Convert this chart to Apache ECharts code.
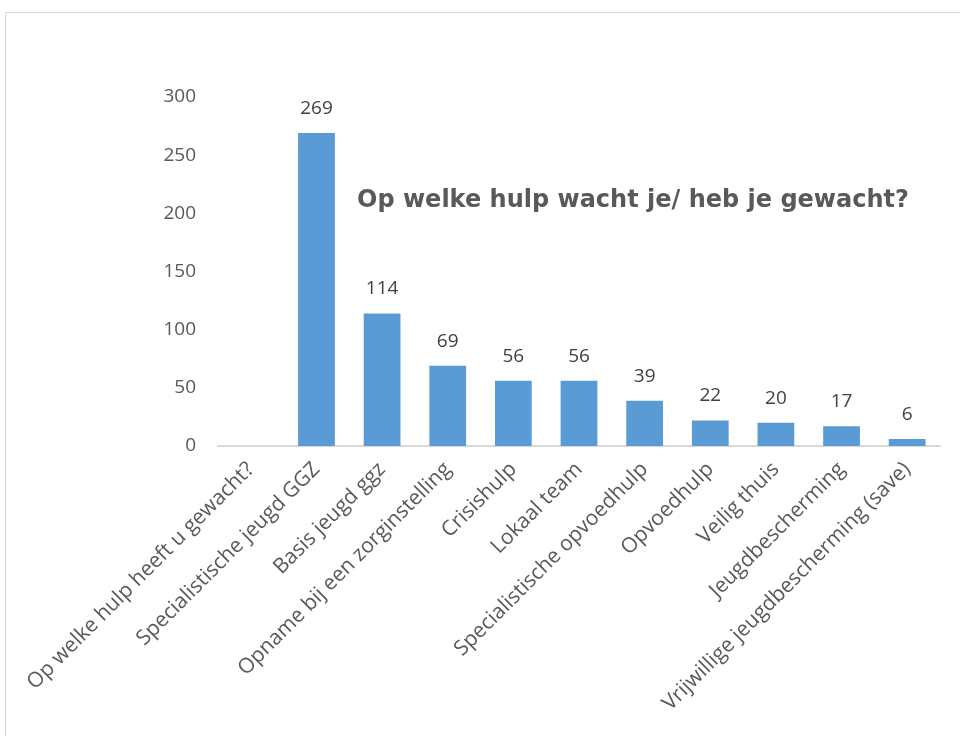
<!DOCTYPE html>
<html>
<head>
<meta charset="utf-8">
<script src="https://cdn.jsdelivr.net/npm/echarts@6/dist/echarts.min.js"></script>
<style>
  html, body { margin: 0; padding: 0; background: #fff; }
  #frame { position: absolute; left: 5px; top: 12px; width: 1000px; height: 800px; border: 1px solid #d9d9d9; box-sizing: border-box; }
  #chart { position: absolute; left: 0; top: 0; width: 960px; height: 736px; }
</style>
</head>
<body>
<div id="frame"></div>
<div id="chart"></div>
<script>
const categories = [
  'Op welke hulp heeft u gewacht?',
  'Specialistische jeugd GGZ',
  'Basis jeugd ggz',
  'Opname bij een zorginstelling',
  'Crisishulp',
  'Lokaal team',
  'Specialistische opvoedhulp',
  'Opvoedhulp',
  'Veilig thuis',
  'Jeugdbescherming',
  'Vrijwillige jeugdbescherming (save)'
]
const counts = [null, 269, 114, 69, 56, 56, 39, 22, 20, 17, 6]
const yTicks = { min: 0, max: 300, interval: 50 }
const chartTitle = 'Op welke hulp wacht je/ heb je gewacht?'

const chart = echarts.init(document.getElementById('chart'))

const option = {
  animation: false,
  textStyle: { fontFamily: 'Open Sans' },
  title: {
    text: chartTitle,
    left: 352,
    top: 184,
    textStyle: { fontFamily: 'DejaVu Sans', fontWeight: 'bold', fontSize: 24, color: '#595959' }
  },
  grid: { left: 218, right: 20, top: 97, bottom: 290 },
  xAxis: {
    type: 'category',
    data: categories,
    axisLine: { lineStyle: { color: '#d9d9d9', width: 2 } },
    axisTick: { show: false },
    axisLabel: { rotate: 45, interval: 0, fontSize: 21, color: '#595959', margin: 20 }
  },
  yAxis: {
    type: 'value',
    min: yTicks.min,
    max: yTicks.max,
    interval: yTicks.interval,
    splitLine: { show: false },
    axisLine: { show: false },
    axisTick: { show: false },
    axisLabel: { fontSize: 19, color: '#595959', margin: 22 }
  },
  series: [{
    type: 'bar',
    data: counts,
    barWidth: '56%',
    itemStyle: { color: '#5b9bd5' },
    label: { show: true, position: 'top', distance: 15, fontSize: 19, color: '#404040' }
  }]
}

chart.setOption(option)
</script>
</body>
</html>
